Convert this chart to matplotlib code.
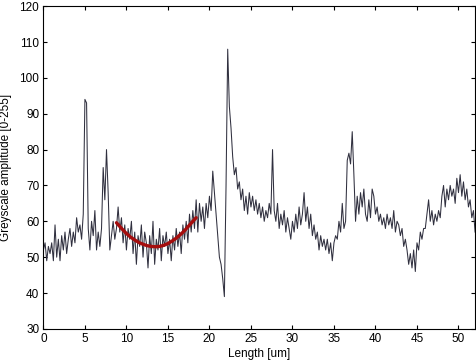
import numpy as np
import matplotlib.pyplot as plt

plt.rcParams['font.family'] = ['Liberation Sans', 'DejaVu Sans']

# profile sampled every 0.2 um from 0 to 52
step = 0.2
amp = [
    52, 54, 49, 53, 51,   54, 49, 59, 50, 55,   49, 56, 52, 57, 51,
    55, 58, 53, 57, 54,   61, 57, 59, 55, 62,   94, 93, 58, 52, 60,
    56, 63, 52, 57, 53,   58, 75, 66, 80, 68,   52, 56, 60, 55, 58,
    64, 57, 61, 54, 59,   52, 58, 55, 60, 51,   57, 48, 56, 53, 59,
    50, 57, 54, 47, 56,   51, 60, 48, 55, 52,   58, 49, 56, 53, 57,
    51, 55, 49, 56, 52,   58, 53, 57, 51, 59,   55, 60, 54, 62, 57,
    63, 58, 66, 57, 65,   60, 64, 58, 65, 61,   67, 63, 74, 68, 62,
    56, 50, 48, 44, 39,   70, 108, 92, 86, 78,  73, 75, 69, 71, 66,
    69, 63, 67, 62, 68,   64, 67, 63, 66, 62,   65, 61, 64, 60, 63,
    61, 65, 62, 80, 63,   60, 65, 58, 62, 59,   63, 57, 61, 58, 55,
    60, 57, 62, 58, 64,   59, 62, 68, 60, 64,   58, 62, 56, 59, 55,
    57, 52, 56, 53, 55,   52, 55, 51, 54, 49,   54, 56, 55, 60, 57,
    65, 58, 60, 77, 79,   76, 85, 73, 60, 67,   62, 68, 64, 69, 62,
    60, 66, 61, 69, 67,   62, 64, 60, 62, 59,   61, 58, 62, 59, 61,
    58, 63, 57, 60, 59,   56, 58, 53, 55, 52,   48, 51, 47, 52, 46,
    54, 52, 57, 55, 58,   58, 62, 66, 60, 63,   59, 62, 60, 63, 61,
    67, 70, 64, 69, 66,   70, 67, 69, 65, 72,   68, 73, 67, 71, 66,
    69, 64, 66, 61, 63,   57,
]
length = np.arange(len(amp)) * step

# fitted curve (red)
fit_x = [8.8, 9.5, 10, 10.5, 11, 11.5, 12, 12.5, 13, 13.5, 14, 14.5,
         15, 15.5, 16, 16.5, 17, 17.5, 18, 18.4]
fit_y = [59.6, 57.8, 56.6, 55.6, 54.8, 54.1, 53.6, 53.2, 53.0, 52.9, 53.0,
         53.3, 53.8, 54.5, 55.3, 56.3, 57.4, 58.7, 60.0, 61.0]

fig = plt.figure(figsize=(4.77, 3.63), dpi=100)
ax = fig.add_axes([0.091, 0.094, 0.905, 0.889])
ax.plot(length, amp, color='#30303f', lw=0.75)
ax.plot(fit_x, fit_y, color='#a50d0d', lw=2.4, solid_capstyle='round')

ax.set_xlim(0, 52)
ax.set_ylim(30, 120)
ax.set_xticks(range(0, 51, 5))
ax.set_yticks(range(30, 121, 10))
ax.tick_params(direction='in', top=True, right=True, labelsize=8.5, length=3, pad=3)
ax.set_xlabel('Length [um]', fontsize=8.5, labelpad=2)
ax.set_ylabel('Greyscale amplitude [0-255]', fontsize=8.5, labelpad=5)
for s in ax.spines.values():
    s.set_linewidth(0.8)

fig.savefig('out.png', dpi=100)
